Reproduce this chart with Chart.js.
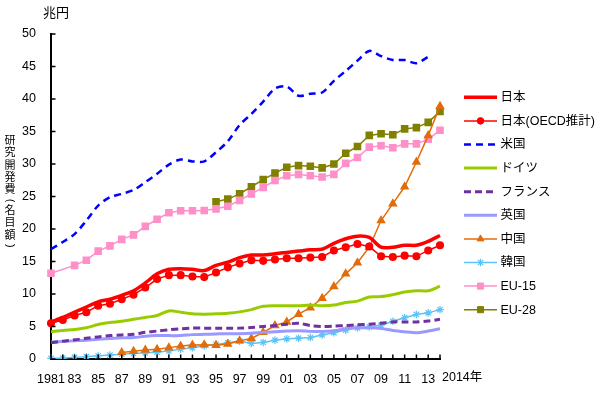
<!DOCTYPE html>
<html><head><meta charset="utf-8">
<script src="https://cdn.jsdelivr.net/npm/chart.js@4"></script>
<style>html,body{margin:0;padding:0;background:#fff;}#wrap{width:600px;height:396px;position:relative;}</style>
</head><body><div id="wrap"><canvas id="c" width="600" height="396"></canvas></div>
<script>
const years = [1981,1982,1983,1984,1985,1986,1987,1988,1989,1990,1991,1992,1993,1994,1995,1996,1997,1998,1999,2000,2001,2002,2003,2004,2005,2006,2007,2008,2009,2010,2011,2012,2013,2014];
const xTickLabels = ['1981','','83','','85','','87','','89','','91','','93','','95','','97','','99','','01','','03','','05','','07','','09','','11','','13',''];
const lastTickLabel = '2014年';
const unitLabel = '兆円';
const yTitle = ['研','究','開','発','費','(','名','目','額',')'];
const seriesNames = ['日本','日本(OECD推計)','米国','ドイツ','フランス','英国','中国','韓国','EU-15','EU-28'];

const japan = [5.7,6.4,7.2,8.0,8.8,9.2,9.8,10.5,11.7,13.1,13.8,13.9,13.8,13.6,14.4,14.9,15.6,16.0,16.0,16.2,16.4,16.6,16.8,16.9,17.8,18.5,18.9,18.7,17.2,17.2,17.5,17.5,18.1,19.0];
const japanOECD = [5.5,6.0,6.7,7.2,8.2,8.5,9.2,9.9,11.0,12.3,12.9,12.9,12.7,12.6,13.3,14.1,14.7,15.2,15.1,15.3,15.5,15.5,15.6,15.7,16.7,17.2,17.7,17.3,15.8,15.7,15.9,15.8,16.7,17.5];
const us = [16.9,18.0,19.2,21.3,23.6,24.9,25.4,26.0,27.2,28.5,29.9,30.7,30.4,30.4,31.8,33.5,36.0,37.7,39.6,41.6,41.9,40.5,40.8,41.0,42.8,44.3,45.9,47.4,46.6,46.0,46.0,45.5,46.5,null];
const germany = [4.2,4.4,4.55,4.8,5.3,5.6,5.8,6.1,6.4,6.7,7.4,7.2,6.95,6.9,6.95,7.05,7.25,7.6,8.1,8.2,8.2,8.2,8.3,8.2,8.3,8.7,8.9,9.55,9.6,9.9,10.3,10.5,10.5,11.2];
const france = [2.5,2.75,2.95,3.2,3.4,3.6,3.7,3.8,4.1,4.3,4.5,4.65,4.75,4.75,4.75,4.75,4.75,4.85,5.0,5.15,5.35,5.5,5.15,5.0,5.05,5.15,5.25,5.35,5.5,5.7,5.7,5.7,5.85,6.1];
const uk = [2.6,2.7,2.8,2.9,3.05,3.15,3.25,3.3,3.5,3.6,3.6,3.6,3.75,3.8,3.85,3.9,3.9,3.95,4.1,4.2,4.3,4.35,4.25,4.25,4.35,4.65,4.8,4.8,4.7,4.4,4.2,4.05,4.3,4.65];
const china = [null,null,null,null,null,null,1.0,1.2,1.4,1.5,1.75,2.0,2.15,2.2,2.1,2.3,2.8,3.15,4.1,5.15,5.7,6.9,7.9,9.35,11.15,13.1,14.8,17.2,21.3,23.9,26.5,30.3,34.4,38.9];
const korea = [0.1,0.15,0.25,0.35,0.5,0.6,0.75,0.85,0.95,1.05,1.25,1.5,1.75,2.0,2.25,2.5,2.75,2.4,2.55,2.9,3.1,3.2,3.3,3.7,4.05,4.45,4.8,4.95,5.2,5.8,6.35,6.85,7.1,7.6];
const eu15 = [13.2,null,14.4,15.2,16.6,17.4,18.4,19.1,20.4,21.5,22.5,22.8,22.8,22.85,23.1,23.5,24.4,25.4,26.4,27.45,28.2,28.4,28.2,28.0,28.4,30.1,31.0,32.6,32.8,32.5,33.1,33.1,33.8,35.2];
const eu28 = [null,null,null,null,null,null,null,null,null,null,null,null,null,null,24.2,24.6,25.4,26.5,27.6,28.6,29.5,29.75,29.65,29.4,30.0,31.65,32.7,34.4,34.65,34.5,35.4,35.6,36.4,38.1];

const FONT = "'Liberation Sans', 'Noto Sans CJK JP', sans-serif";

function ds(label, data, color, width, opts){
  return Object.assign({label, data, borderColor: color, backgroundColor: color, borderWidth: width,
    pointRadius: 0, pointHoverRadius: 0, tension: 0, fill: false, spanGaps: true}, opts||{});
}
const datasets = [
  ds(seriesNames[0], japan, '#FF0000', 3.5, {tension: 0.3}),
  ds(seriesNames[1], japanOECD, '#FF0000', 1.5, {pointStyle:'circle', pointRadius:3.3}),
  ds(seriesNames[2], us, '#0000FF', 2.5, {borderDash:[7,5], tension: 0.3}),
  ds(seriesNames[3], germany, '#99CC00', 3, {tension: 0.3}),
  ds(seriesNames[4], france, '#7030A0', 3, {borderDash:[7,4], tension: 0.3}),
  ds(seriesNames[5], uk, '#9999FF', 3, {tension: 0.3}),
  ds(seriesNames[6], china, '#E36C0A', 1.5, {pointStyle:'triangle', pointRadius:4}),
  ds(seriesNames[7], korea, '#5CC4F5', 1.5, {pointStyle:'star', pointRadius:3.8, pointBorderWidth:1.2}),
  ds(seriesNames[8], eu15, '#FF8FC8', 1.5, {pointStyle:'rect', pointRadius:4.3}),
  ds(seriesNames[9], eu28, '#808000', 1.5, {pointStyle:'rect', pointRadius:4.3})
];

const extras = {
  id: 'extras',
  afterDraw(chart){
    const ctx = chart.ctx, xs = chart.scales.x, ys = chart.scales.y, ca = chart.chartArea;
    ctx.save();
    ctx.strokeStyle = '#000'; ctx.lineWidth = 1.5;
    xs.ticks.forEach((t,i)=>{ const x = xs.getPixelForTick(i);
      ctx.beginPath(); ctx.moveTo(x, ca.bottom); ctx.lineTo(x, ca.bottom-4.5); ctx.stroke(); });
    ys.ticks.forEach((t,i)=>{ const y = ys.getPixelForTick(i);
      ctx.beginPath(); ctx.moveTo(ca.left, y); ctx.lineTo(ca.left+4.5, y); ctx.stroke(); });
    ctx.fillStyle = '#000';
    ctx.font = '12.5px ' + FONT;
    ctx.textAlign = 'left'; ctx.textBaseline = 'middle';
    ctx.fillText(lastTickLabel, xs.getPixelForValue(years.length-1)+2, ca.bottom+19);
    ctx.font = '13px ' + FONT;
    ctx.fillText(unitLabel, 43, 13);
    ctx.font = '11px ' + FONT; ctx.textAlign = 'center';
    let y = 141;
    yTitle.forEach(ch=>{
      const paren = (ch==='('||ch===')');
      if (paren) {
        y -= 2;
        ctx.save(); ctx.translate(10, y); ctx.rotate(Math.PI/2);
        ctx.fillText(ch, 0, 0); ctx.restore();
        y += 10.5;
      } else {
        ctx.fillText(ch, 10, y);
        y += 12.3;
      }
    });
    // legend
    const lx0 = 464, lx1 = 497, ly0 = 97.3, step = 23.6;
    chart.data.datasets.forEach((d,i)=>{
      const yy = ly0 + i*step;
      ctx.save();
      ctx.strokeStyle = d.borderColor; ctx.lineWidth = d.borderWidth;
      ctx.setLineDash(d.borderDash || []);
      ctx.beginPath(); ctx.moveTo(lx0, yy); ctx.lineTo(lx1, yy); ctx.stroke();
      ctx.setLineDash([]);
      if (d.pointRadius > 0) {
        ctx.fillStyle = d.backgroundColor; ctx.strokeStyle = d.borderColor; ctx.lineWidth = d.pointBorderWidth || 1;
        Chart.helpers.drawPoint(ctx, {pointStyle: d.pointStyle, radius: d.pointRadius, borderWidth: d.pointBorderWidth || 1, rotation: 0}, (lx0+lx1)/2, yy);
      }
      ctx.restore();
      ctx.fillStyle = '#000'; ctx.font = '12.5px ' + FONT; ctx.textAlign = 'left'; ctx.textBaseline = 'middle';
      ctx.fillText(d.label, 500.5, yy+0.5);
    });
    ctx.restore();
  }
};

new Chart(document.getElementById('c'), {
  type: 'line',
  data: { labels: years, datasets },
  options: {
    responsive: false, animation: false, devicePixelRatio: 1,
    layout: { padding: { left: 0, right: 160, top: 34, bottom: 0 } },
    plugins: { legend: { display: false }, tooltip: { enabled: false } },
    elements: { point: { borderWidth: 1 } },
    scales: {
      x: {
        type: 'category', offset: false,
        grid: { display: false, drawTicks: false },
        border: { display: true, color: '#000', width: 2 },
        ticks: { autoSkip: false, maxRotation: 0, minRotation: 0, padding: 13, color: '#000',
          font: { family: FONT, size: 12.5 },
          callback: (v, i) => xTickLabels[i] },
        afterFit: s => { s.height = 37; }
      },
      y: {
        min: 0, max: 50,
        grid: { display: false, drawTicks: false },
        border: { display: true, color: '#000', width: 2 },
        ticks: { stepSize: 5, padding: 15, color: '#000', font: { family: FONT, size: 12.5 } },
        afterFit: s => { s.width = 51; }
      }
    }
  },
  plugins: [extras]
});
</script></body></html>
